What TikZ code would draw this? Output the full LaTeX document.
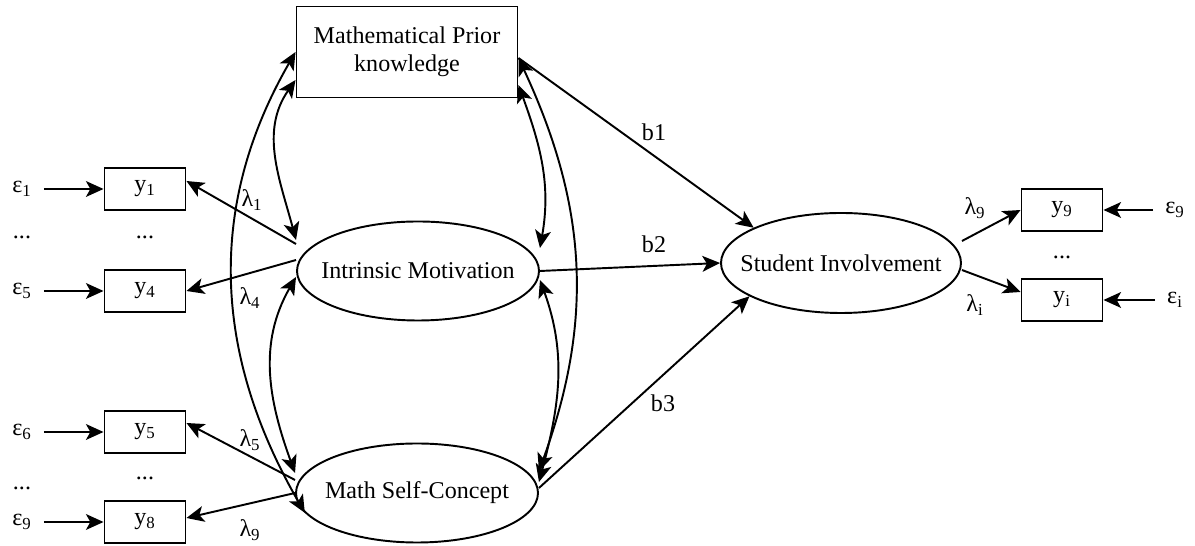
\documentclass[tikz,border=0pt]{standalone}
\usepackage{fontspec}
\setmainfont{Liberation Serif}
\usetikzlibrary{arrows.meta,shapes.geometric}

\begin{document}
\begin{tikzpicture}[font=\fontsize{13.7}{16}\selectfont, line width=1.1pt,
  >={Stealth[length=10pt,width=9pt,inset=2.5pt]},
  obsbox/.style={draw, minimum width=1.62cm, minimum height=0.84cm, inner sep=0pt},
  latent/.style={draw, ellipse, minimum width=4.84cm, minimum height=1.98cm, inner xsep=-0.45cm, inner ysep=0pt},
  errarrow/.style={->, shorten <=3pt}]

\useasboundingbox (0,0) rectangle (23.9,10.92);

% latent variables
\node [draw, minimum width=4.42cm, minimum height=1.82cm, align=center] (mpk) at (8.14,9.88) {Mathematical Prior\\knowledge};
\node [latent] (im) at (8.36,5.5) {Intrinsic Motivation};
\node [latent] (msc) at (8.34,1.06) {Math Self-Concept};
\node [latent, minimum width=4.8cm, minimum height=2cm] (si) at (16.82,5.66) {Student Involvement};

% indicators
\node [obsbox] (y1) at (2.9,7.14) {y\textsubscript{1}};
\node [obsbox] (y4) at (2.9,5.1) {y\textsubscript{4}};
\node [obsbox] (y5) at (2.9,2.28) {y\textsubscript{5}};
\node [obsbox] (y8) at (2.9,0.48) {y\textsubscript{8}};
\node [obsbox] (y9) at (21.24,6.72) {y\textsubscript{9}};
\node [obsbox] (yi) at (21.24,4.92) {y\textsubscript{i}};

% errors
\node (e1) at (0.44,7.14) {ε\textsubscript{1}};
\node (e5) at (0.44,5.1) {ε\textsubscript{5}};
\node (e6) at (0.44,2.28) {ε\textsubscript{6}};
\node (e9) at (0.44,0.48) {ε\textsubscript{9}};
\node (r9) at (23.5,6.72) {ε\textsubscript{9}};
\node (ri) at (23.5,4.92) {ε\textsubscript{i}};

\node (d1) at (0.44,6.18) {...};
\node (d2) at (2.9,6.18) {...};
\node (d3) at (0.44,1.16) {...};
\node (d4) at (2.9,1.36) {...};
\node (d5) at (21.24,5.78) {...};

\draw [errarrow] (e1) -- (y1);
\draw [errarrow] (e5) -- (y4);
\draw [errarrow] (e6) -- (y5);
\draw [errarrow] (e9) -- (y8);
\draw [errarrow] (r9) -- (y9);
\draw [errarrow] (ri) -- (yi);

% loadings
\draw [->] ([yshift=0.54cm]im.west) -- ([yshift=0.16cm]y1.east);
\draw [->] ([yshift=0.22cm]im.west) -- (y4.east);
\draw [->] ([yshift=0.26cm]msc.west) -- ([yshift=0.18cm]y5.east);
\draw [->] (msc.west) -- ([yshift=0.08cm]y8.east);
\draw [->] ([yshift=0.44cm]si.east) -- (y9.west);
\draw [->] ([yshift=-0.14cm]si.east) -- ([yshift=0.16cm]yi.west);

\node (l1) at (5.04,6.92) {λ\textsubscript{1}};
\node (l4) at (5.0,4.96) {λ\textsubscript{4}};
\node (l5) at (5.0,2.12) {λ\textsubscript{5}};
\node (l9) at (5.0,0.32) {λ\textsubscript{9}};
\node (m9) at (19.5,6.76) {λ\textsubscript{9}};
\node (mi) at (19.5,4.82) {λ\textsubscript{i}};

% paths
\draw [->] ([yshift=-0.12cm]mpk.east) -- (si.158);
\draw [->] (im.east) -- (si.west);
\draw [->] ([yshift=0.1cm]msc.east) -- (si.200);
\node (b1) at (13.08,8.28) {b1};
\node (b2) at (13.08,6.04) {b2};
\node (b3) at (13.26,2.86) {b3};

% covariances
\draw [<->] (mpk.west) to[out=240,in=120] (msc.190);
\draw [<->] ([yshift=-0.56cm]mpk.west) to[out=235,in=105] ([yshift=0.62cm]im.west);
\draw [<->] ([yshift=-0.12cm]im.west) to[out=240,in=110] ([yshift=0.4cm]msc.west);
\draw [<->] ([yshift=-0.66cm]mpk.east) to[out=290,in=80] ([yshift=0.46cm]im.east);
\draw [<->] ([yshift=-0.12cm]mpk.east) to[out=295,in=70] ([yshift=0.44cm]msc.east);
\draw [<->] ([yshift=-0.18cm]im.east) to[out=290,in=75] ([yshift=0.22cm]msc.east);
\end{tikzpicture}
\end{document}
